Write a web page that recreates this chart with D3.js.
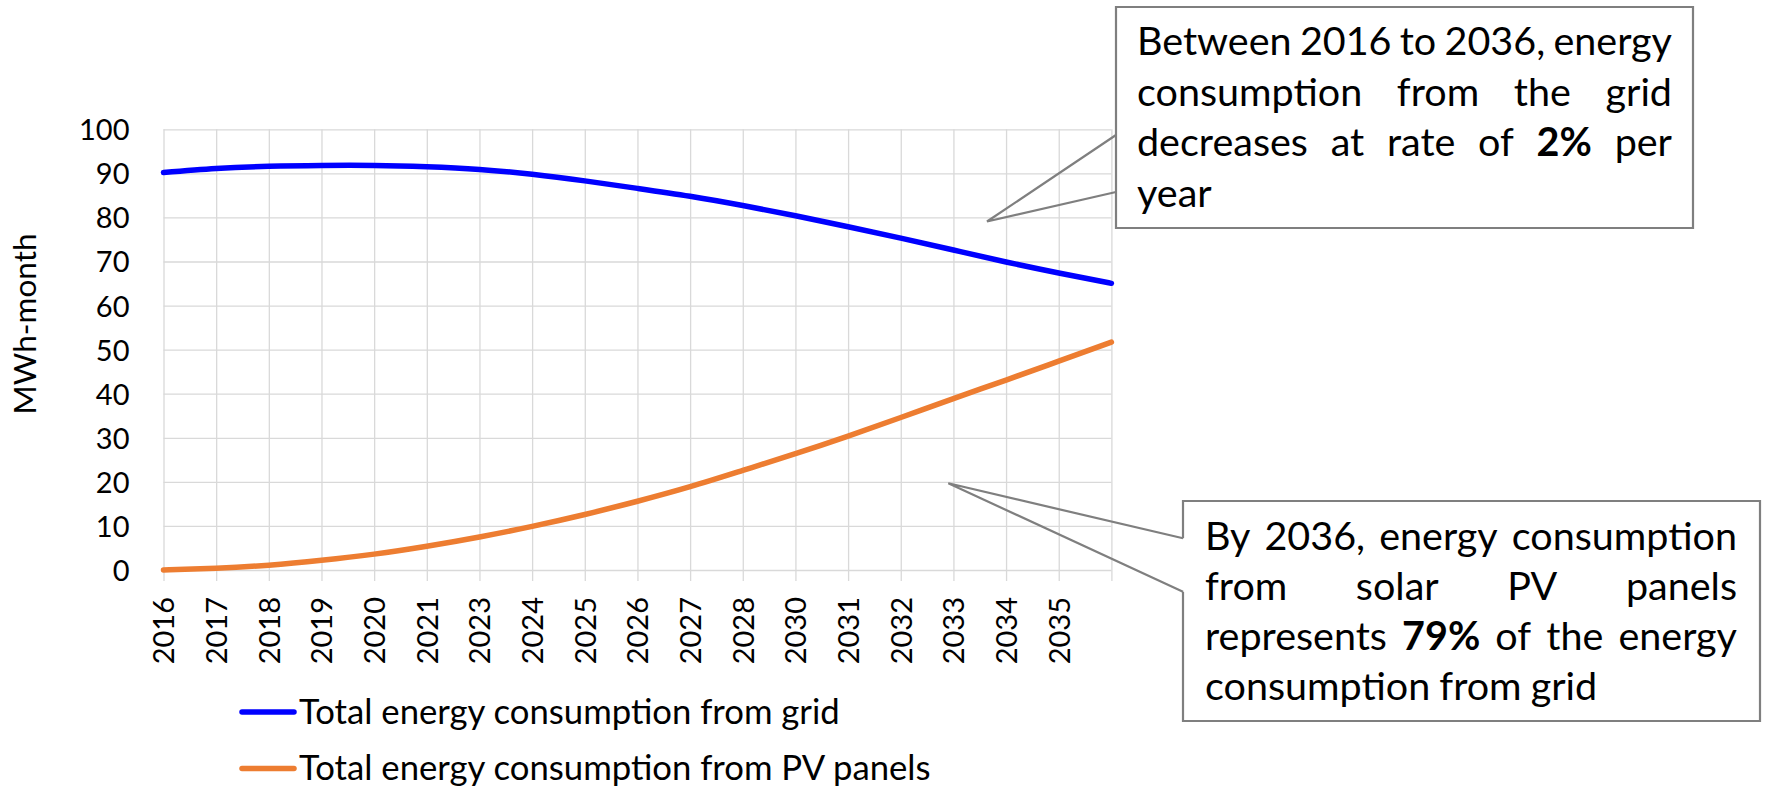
<!DOCTYPE html>
<html>
<head>
<meta charset="utf-8">
<script src="https://cdn.jsdelivr.net/npm/d3@7"></script>
<style>
  body { margin: 0; background: #fff; }
  svg { display: block; }
  text { font-family: Lato, "Open Sans", "DejaVu Sans", sans-serif; fill: #000; }
</style>
</head>
<body>
<svg id="chart" width="1768" height="789"></svg>
<script>
// Category labels shown under the gridlines (the last gridline carries no label)
const tickLabels = ["2016", "2017", "2018", "2019", "2020", "2021", "2023", "2024", "2025",
                    "2026", "2027", "2028", "2030", "2031", "2032", "2033", "2034", "2035"];

// Monthly energy consumption, MWh-month, one value per gridline position
const gridValues = [90.2, 91.1, 91.6, 91.8, 91.8, 91.5, 90.9, 89.8, 88.3, 86.6,
                    84.8, 82.7, 80.4, 77.9, 75.3, 72.6, 69.9, 67.4, 65.05];
const pvValues   = [0.0, 0.4, 1.1, 2.2, 3.6, 5.4, 7.5, 9.9, 12.6, 15.6,
                    18.9, 22.6, 26.4, 30.4, 34.6, 38.9, 43.1, 47.4, 51.7];

const seriesNames  = ["Total energy consumption from grid", "Total energy consumption from PV panels"];
const seriesColors = ["#0000FF", "#ED7D31"];

const yTicks = d3.range(0, 101, 10);
const yTitle = "MWh-month";

// Callout notes; words wrapped in * are bold
const noteGrid = ["Between 2016 to 2036, energy",
                  "consumption from the grid",
                  "decreases at rate of *2%* per",
                  "year"];
const notePV = ["By 2036, energy consumption",
                "from solar PV panels",
                "represents *79%* of the energy",
                "consumption from grid"];

const svg = d3.select("#chart");
const FONT_TICK = 29, FONT_TITLE = 31.5, FONT_LEGEND = 34.7, FONT_NOTE = 39.5;

const plot = { left: 163.5, right: 1111.4, top: 129.3, bottom: 570 };

const x = d3.scaleLinear().domain([0, gridValues.length - 1]).range([plot.left, plot.right]);
const y = d3.scaleLinear().domain([0, 100]).range([plot.bottom, plot.top]);

// Horizontal gridlines
svg.append("g")
  .attr("transform", `translate(${plot.left},0)`)
  .call(d3.axisLeft(y).tickValues(yTicks).tickSize(-(plot.right - plot.left)).tickFormat(""))
  .call(g => g.select(".domain").remove())
  .call(g => g.selectAll("line").attr("stroke", "#D9D9D9").attr("stroke-width", 1.3));

// Vertical gridlines, extended below the axis as tick marks
svg.append("g")
  .attr("transform", `translate(0,${plot.bottom + 11})`)
  .call(d3.axisBottom(x).tickValues(d3.range(gridValues.length))
        .tickSize(-(plot.bottom + 11 - plot.top)).tickFormat(""))
  .call(g => g.select(".domain").remove())
  .call(g => g.selectAll("line").attr("stroke", "#D9D9D9").attr("stroke-width", 1.3));

// Y tick labels
svg.append("g")
  .attr("transform", `translate(${plot.left},0)`)
  .call(d3.axisLeft(y).tickValues(yTicks).tickSize(0).tickPadding(34))
  .call(g => g.select(".domain").remove())
  .call(g => g.selectAll("text")
      .attr("font-size", FONT_TICK).attr("font-family", null).attr("dy", "0.36em"));

// X tick labels, rotated
svg.append("g")
  .attr("transform", `translate(0,${plot.bottom})`)
  .call(d3.axisBottom(x).tickValues(d3.range(tickLabels.length)).tickSize(0)
        .tickFormat(i => tickLabels[i]))
  .call(g => g.select(".domain").remove())
  .call(g => g.selectAll("text")
      .attr("font-size", FONT_TICK).attr("font-family", null)
      .attr("text-anchor", "end")
      .attr("transform", "rotate(-90)")
      .attr("x", -27).attr("y", 0).attr("dy", "0.36em"));

// Y axis title
svg.append("text")
  .attr("transform", "translate(25,324) rotate(-90)")
  .attr("text-anchor", "middle").attr("dy", "0.36em")
  .attr("font-size", FONT_TITLE)
  .text(yTitle);

// Series lines
const line = d3.line().x((d, i) => x(i)).y(d => y(d)).curve(d3.curveNatural);
[gridValues, pvValues].forEach((vals, k) => {
  svg.append("path")
    .datum(vals)
    .attr("d", line)
    .attr("fill", "none")
    .attr("stroke", seriesColors[k])
    .attr("stroke-width", 5.5)
    .attr("stroke-linecap", "round");
});

// Legend
const legendRows = [712, 768.5];
seriesNames.forEach((name, k) => {
  const gy = legendRows[k];
  svg.append("line")
    .attr("x1", 242).attr("x2", 294).attr("y1", gy).attr("y2", gy)
    .attr("stroke", seriesColors[k]).attr("stroke-width", 5.5).attr("stroke-linecap", "round");
  svg.append("text")
    .attr("x", 299).attr("y", gy).attr("dy", "0.34em")
    .attr("font-size", FONT_LEGEND)
    .text(name);
});

// Justified text block inside a callout
function justified(lines, x0, x1, baseline, lineGap) {
  const g = svg.append("g");
  lines.forEach((ln, li) => {
    const words = ln.split(" ").map(w => ({ text: w.replace(/\*/g, ""), bold: w.includes("*") }));
    const nodes = words.map(w => g.append("text")
      .attr("font-size", FONT_NOTE)
      .attr("font-weight", w.bold ? "bold" : "normal")
      .attr("y", baseline + li * lineGap)
      .text(w.text));
    const widths = nodes.map(n => n.node().getComputedTextLength());
    const total = d3.sum(widths);
    const last = li === lines.length - 1;
    const space = last || words.length < 2 ? FONT_NOTE * 0.23 : (x1 - x0 - total) / (words.length - 1);
    let cx = x0;
    nodes.forEach((n, i) => { n.attr("x", cx); cx += widths[i] + space; });
  });
}

// Callout outlines with a pointer wedge
function callout(box, tip, wedge) {
  svg.append("path")
    .attr("d", `M${box.x0},${wedge[0]} L${tip[0]},${tip[1]} L${box.x0},${wedge[1]}`)
    .attr("fill", "none").attr("stroke", "#7F7F7F").attr("stroke-width", 2.2);
  svg.append("path")
    .attr("d", `M${box.x0},${wedge[1]} V${box.y1} H${box.x1} V${box.y0} H${box.x0} V${wedge[0]}`)
    .attr("fill", "none").attr("stroke", "#7F7F7F").attr("stroke-width", 2.2);
}

callout({ x0: 1116, x1: 1693, y0: 7, y1: 228 }, [987, 221.5], [192, 135]);
justified(noteGrid, 1137, 1672, 55, 50.5);

callout({ x0: 1183, x1: 1760, y0: 501, y1: 721 }, [948.3, 483.3], [538.3, 591.7]);
justified(notePV, 1205, 1737, 550, 50);
</script>
</body>
</html>
